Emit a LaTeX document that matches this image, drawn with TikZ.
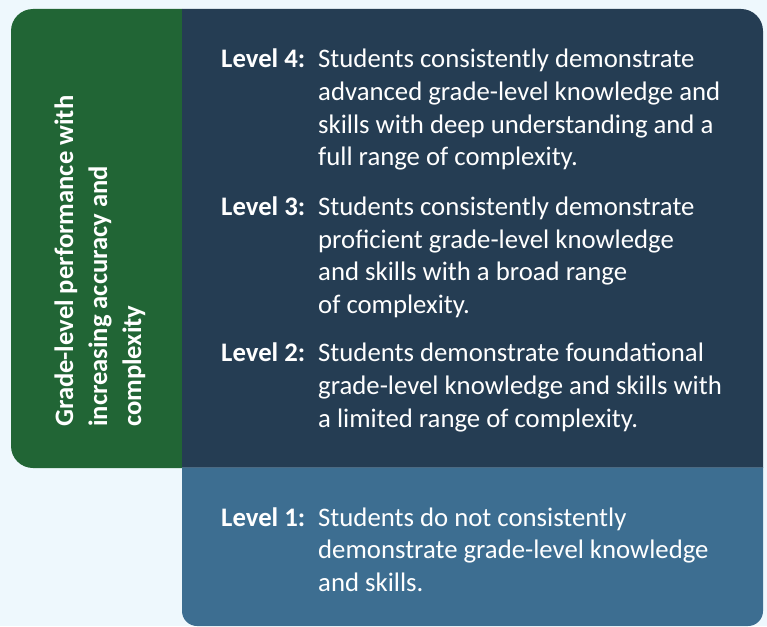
\documentclass[tikz,border=0pt]{standalone}
\usepackage{fontspec}
\setmainfont{Carlito}
\definecolor{bgc}{HTML}{EEF8FD}
\definecolor{greenc}{HTML}{216535}
\definecolor{navyc}{HTML}{253D53}
\definecolor{steelc}{HTML}{3D6E91}
\definecolor{sepc}{HTML}{4C6A82}
\tikzset{
  lbl/.style={font=\bfseries\fontsize{26.75}{32}\selectfont, text=white, inner sep=0pt, anchor=base west},
  desc/.style={font=\fontsize{26.75}{32}\selectfont, text=white, inner sep=0pt, anchor=base west},
  side/.style={font=\bfseries\fontsize{26.6}{32}\selectfont, text=white, inner sep=0pt, anchor=base west, rotate=90}
}
\begin{document}
\begin{tikzpicture}[x=1pt,y=-1pt]
\fill[bgc] (0,0) rectangle (767,626);
\useasboundingbox (0,0) rectangle (767,626);
% green side panel
\begin{scope}
  \clip (0,0) rectangle (182,626);
  \fill[greenc, rounded corners=22pt] (11,9) rectangle (230,468);
\end{scope}
% navy panel
\begin{scope}
  \clip (182,0) rectangle (767,467.5);
  \fill[navyc, rounded corners=22pt] (140,9) rectangle (763,520);
\end{scope}
% steel panel
\begin{scope}
  \clip (182,467.5) rectangle (767,626);
  \fill[steelc, rounded corners=15pt] (182,420) rectangle (763,626);
\end{scope}
\draw[sepc, line width=1.2pt] (182,467.5) -- (763,467.5);

% side text
\node[side] (s1) at (73,427) {Grade-level performance with};
\node[side] (s2) at (107,427) {increasing accuracy and};
\node[side] (s3) at (141,427) {complexity};

% Level 4
\node[lbl] (l4) at (221,67) {Level 4:};
\node[desc] (d4a) at (318,67) {Students consistently demonstrate};
\node[desc] (d4b) at (318,100) {advanced grade-level knowledge and};
\node[desc] (d4c) at (318,133) {skills with deep understanding and a};
\node[desc] (d4d) at (318,165) {full range of complexity.};
% Level 3
\node[lbl] (l3) at (221,215) {Level 3:};
\node[desc] (d3a) at (318,215) {Students consistently demonstrate};
\node[desc] (d3b) at (318,248) {proficient grade-level knowledge};
\node[desc] (d3c) at (318,280) {and skills with a broad range};
\node[desc] (d3d) at (318,313) {of complexity.};
% Level 2
\node[lbl] (l2) at (221,361) {Level 2:};
\node[desc] (d2a) at (318,361) {Students demonstrate foundational};
\node[desc] (d2b) at (318,394) {grade-level knowledge and skills with};
\node[desc] (d2c) at (318,427) {a limited range of complexity.};
% Level 1
\node[lbl] (l1) at (221,526) {Level 1:};
\node[desc] (d1a) at (318,526) {Students do not consistently};
\node[desc] (d1b) at (318,558.5) {demonstrate grade-level knowledge};
\node[desc] (d1c) at (318,591) {and skills.};
\end{tikzpicture}
\end{document}
